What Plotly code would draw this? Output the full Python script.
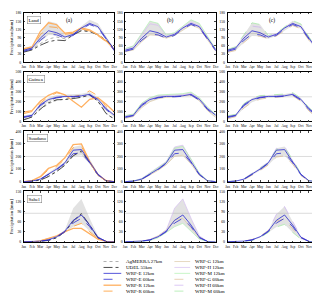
import numpy as np
import plotly.graph_objects as go

months = ["Jan", "Feb", "Mar", "Apr", "May", "Jun", "Jul", "Aug", "Sep", "Oct", "Nov", "Dec"]
regions = ["Land", "Guinea", "Soudano", "Sahel"]
panel_tags = ["(a)", "(b)", "(c)"]
y_max = [180, 500, 400, 150]
y_dtick = [30, 100, 100, 30]
ref_levels = [105, 250, 200, 85]

land = {
    "AgMERRA 27km": [40, 48, 68, 85, 92, 86, 102, 118, 115, 102, 80, 52],
    "UDEL 55km": [37, 45, 62, 75, 81, 79, 100, 115, 112, 100, 81, 50],
    "WRF-E 12km": [44, 52, 88, 115, 108, 92, 102, 125, 142, 130, 88, 46],
    "WRF-E 60km": [40, 48, 80, 103, 100, 88, 98, 122, 138, 126, 84, 42],
    "WRF-R 12km": [50, 56, 112, 144, 137, 106, 110, 125, 118, 100, 78, 46],
    "WRF-R 60km": [47, 54, 100, 130, 127, 102, 106, 122, 114, 97, 75, 44],
    "WRF-G 12km": [38, 45, 75, 100, 98, 88, 98, 118, 136, 124, 82, 40],
    "WRF-H 12km": [48, 58, 100, 140, 135, 98, 105, 128, 146, 132, 90, 46],
    "WRF-M 12km": [50, 60, 105, 150, 142, 100, 108, 132, 155, 142, 95, 48],
    "WRF-G 60km": [36, 43, 72, 96, 95, 86, 96, 116, 134, 122, 80, 38],
    "WRF-H 60km": [45, 55, 95, 132, 128, 96, 103, 126, 144, 130, 88, 44],
    "WRF-M 60km": [47, 57, 100, 144, 138, 98, 106, 130, 152, 140, 92, 46],
}
guinea = {
    "AgMERRA 27km": [20, 50, 120, 180, 215, 225, 235, 250, 262, 210, 85, 25],
    "UDEL 55km": [16, 45, 125, 190, 220, 222, 232, 245, 270, 205, 80, 22],
    "WRF-E 12km": [48, 63, 170, 222, 245, 254, 254, 260, 275, 225, 130, 63],
    "WRF-E 60km": [40, 58, 160, 215, 240, 250, 250, 255, 268, 215, 120, 55],
    "WRF-R 12km": [95, 110, 205, 265, 300, 270, 205, 145, 225, 240, 175, 95],
    "WRF-R 60km": [80, 100, 185, 250, 290, 275, 250, 270, 310, 260, 150, 70],
    "WRF-G 12km": [30, 50, 140, 200, 230, 245, 250, 255, 265, 210, 110, 40],
    "WRF-H 12km": [55, 70, 180, 235, 260, 265, 265, 270, 285, 235, 140, 70],
    "WRF-M 12km": [60, 75, 185, 240, 268, 272, 272, 282, 298, 242, 145, 72],
    "WRF-G 60km": [28, 48, 135, 195, 225, 240, 245, 250, 260, 205, 105, 38],
    "WRF-H 60km": [52, 68, 175, 230, 255, 262, 262, 266, 280, 230, 135, 66],
    "WRF-M 60km": [58, 72, 180, 236, 262, 268, 268, 278, 292, 238, 140, 70],
}
soudano = {
    "AgMERRA 27km": [0, 3, 15, 45, 85, 135, 215, 235, 150, 50, 5, 0],
    "UDEL 55km": [0, 2, 12, 40, 80, 130, 205, 245, 155, 52, 5, 0],
    "WRF-E 12km": [0, 4, 20, 60, 100, 150, 250, 255, 160, 60, 6, 0],
    "WRF-E 60km": [0, 3, 18, 55, 95, 145, 222, 228, 150, 55, 5, 0],
    "WRF-R 12km": [0, 8, 40, 105, 130, 190, 295, 300, 160, 55, 8, 0],
    "WRF-R 60km": [0, 6, 35, 95, 120, 180, 270, 280, 155, 50, 6, 0],
    "WRF-G 12km": [0, 3, 15, 50, 90, 135, 200, 210, 140, 50, 5, 0],
    "WRF-H 12km": [0, 5, 25, 70, 110, 160, 275, 290, 175, 65, 8, 0],
    "WRF-M 12km": [0, 5, 22, 65, 105, 155, 265, 280, 180, 68, 8, 0],
    "WRF-G 60km": [0, 3, 14, 48, 88, 132, 195, 205, 138, 48, 5, 0],
    "WRF-H 60km": [0, 5, 23, 66, 106, 155, 265, 280, 170, 62, 7, 0],
    "WRF-M 60km": [0, 5, 20, 62, 102, 150, 255, 270, 175, 65, 7, 0],
}
sahel = {
    "AgMERRA 27km": [0, 0, 1, 5, 13, 30, 60, 80, 48, 12, 1, 0],
    "UDEL 55km": [0, 0, 1, 4, 12, 30, 62, 84, 50, 12, 1, 0],
    "WRF-E 12km": [0, 0, 2, 6, 15, 32, 64, 80, 50, 14, 1, 0],
    "WRF-E 60km": [0, 0, 2, 5, 14, 30, 56, 70, 45, 12, 1, 0],
    "WRF-R 12km": [0, 0, 3, 10, 18, 30, 40, 40, 25, 8, 1, 0],
    "WRF-R 60km": [0, 0, 3, 9, 16, 30, 46, 55, 30, 10, 1, 0],
    "WRF-G 12km": [0, 0, 2, 7, 18, 36, 65, 70, 40, 12, 1, 0],
    "WRF-H 12km": [0, 0, 2, 6, 16, 35, 100, 128, 70, 18, 1, 0],
    "WRF-M 12km": [0, 0, 1, 4, 12, 28, 45, 55, 30, 8, 1, 0],
    "WRF-G 60km": [0, 0, 2, 7, 17, 34, 62, 68, 38, 12, 1, 0],
    "WRF-H 60km": [0, 0, 2, 6, 15, 33, 82, 105, 60, 16, 1, 0],
    "WRF-M 60km": [0, 0, 1, 4, 12, 28, 44, 52, 28, 8, 1, 0],
}
region_data = [land, guinea, soudano, sahel]

styles = {
    "AgMERRA 27km": dict(color="#9a9a9a", dash="dot", width=0.8),
    "UDEL 55km": dict(color="#222222", dash="dashdot", width=0.8),
    "WRF-E 12km": dict(color="#2b2bd0", dash="solid", width=0.8),
    "WRF-E 60km": dict(color="#2b2bd0", dash="dash", width=0.8),
    "WRF-R 12km": dict(color="#ffb060", dash="solid", width=1.3),
    "WRF-R 60km": dict(color="#ff9a30", dash="dash", width=0.8),
    "WRF-G 12km": dict(color="#dccaa8", dash="solid", width=0.7),
    "WRF-H 12km": dict(color="#d6bef0", dash="solid", width=0.7),
    "WRF-M 12km": dict(color="#b0f0b0", dash="solid", width=0.7),
    "WRF-G 60km": dict(color="#dcbc94", dash="dash", width=0.7),
    "WRF-H 60km": dict(color="#ccb0f0", dash="dash", width=0.7),
    "WRF-M 60km": dict(color="#a0e8a0", dash="dash", width=0.7),
}
col_series = [
    ["AgMERRA 27km", "UDEL 55km", "WRF-R 60km", "WRF-R 12km", "WRF-E 60km", "WRF-E 12km"],
    ["WRF-G 12km", "WRF-H 12km", "WRF-M 12km", "WRF-E 60km", "WRF-E 12km"],
    ["WRF-G 60km", "WRF-H 60km", "WRF-M 60km", "WRF-E 60km", "WRF-E 12km"],
]
col_band = [
    ["WRF-G 12km", "WRF-H 12km", "WRF-M 12km"],
    ["WRF-G 12km", "WRF-H 12km", "WRF-M 12km"],
    ["WRF-G 60km", "WRF-H 60km", "WRF-M 60km"],
]
legend_left = ["AgMERRA 27km", "UDEL 55km", "WRF-E 12km", "WRF-E 60km", "WRF-R 12km", "WRF-R 60km"]
legend_right = ["WRF-G 12km", "WRF-H 12km", "WRF-M 12km", "WRF-G 60km", "WRF-H 60km", "WRF-M 60km"]

W, H = 320, 294
col_px = [(14, 106), (117, 209), (221, 312)]
row_px = [(3, 53), (63, 113), (123, 174), (184, 235)]
FONT = "Liberation Serif"

fig = go.Figure()
layout = dict(
    width=W, height=H, margin=dict(l=0, r=0, t=0, b=0),
    paper_bgcolor="white", plot_bgcolor="white", showlegend=False,
    font=dict(family=FONT, size=4, color="black"),
)
shapes = []
annotations = []
x = list(range(12))

for r, data in enumerate(region_data):
    for c in range(3):
        k = r * 3 + c + 1
        xa = "x" if k == 1 else f"x{k}"
        ya = "y" if k == 1 else f"y{k}"
        band = np.array([data[n] for n in col_band[c]], dtype=float)
        lo, hi = band.min(axis=0), band.max(axis=0)
        fig.add_trace(go.Scatter(x=x, y=lo, mode="lines", line=dict(width=0), xaxis=xa, yaxis=ya,
                                 hoverinfo="skip"))
        fig.add_trace(go.Scatter(x=x, y=hi, mode="lines", line=dict(width=0), fill="tonexty",
                                 fillcolor="rgba(160,160,160,0.3)", xaxis=xa, yaxis=ya, hoverinfo="skip"))
        for name in col_series[c]:
            fig.add_trace(go.Scatter(x=x, y=data[name], mode="lines", name=name,
                                     line=styles[name], xaxis=xa, yaxis=ya))
        xl, xr = col_px[c]
        yt, yb = row_px[r]
        axx = dict(domain=[xl / W, xr / W], anchor=ya, range=[0, 11], tickmode="array",
                   tickvals=x, ticktext=months, tickangle=0, showline=True, mirror="ticks",
                   linecolor="black", linewidth=0.6, ticks="inside", ticklen=1.5, tickwidth=0.5,
                   showgrid=False, zeroline=False, tickfont=dict(size=3.5, family=FONT),
                   ticklabelstandoff=1)
        axy = dict(domain=[1 - yb / H, 1 - yt / H], anchor=xa, range=[0, y_max[r]],
                   dtick=y_dtick[r], showline=True, mirror="ticks", linecolor="black",
                   linewidth=0.6, ticks="inside", ticklen=1.5, tickwidth=0.5, showgrid=False,
                   zeroline=False, tickfont=dict(size=3.8, family=FONT), ticklabelstandoff=1)
        if c == 0:
            axy["title"] = dict(text="Precipitation [mm]", font=dict(size=4.6, family=FONT), standoff=1)
        layout["xaxis" if k == 1 else f"xaxis{k}"] = axx
        layout["yaxis" if k == 1 else f"yaxis{k}"] = axy
        shapes.append(dict(type="line", xref=f"{xa} domain", yref=ya, x0=0, x1=1,
                           y0=ref_levels[r], y1=ref_levels[r], line=dict(color="#c4c4c4", width=0.6),
                           layer="below"))
        if c == 0:
            annotations.append(dict(text=regions[r], xref=f"{xa} domain", yref=f"{ya} domain",
                                    x=0.04, y=0.94, xanchor="left", yanchor="top", showarrow=False,
                                    font=dict(size=5, family=FONT), bgcolor="white",
                                    bordercolor="#777777", borderwidth=0.5, borderpad=1))
        if r == 0:
            annotations.append(dict(text=panel_tags[c], xref=f"{xa} domain", yref=f"{ya} domain",
                                    x=0.5, y=0.96, xanchor="center", yanchor="top", showarrow=False,
                                    font=dict(size=5.5, family=FONT)))

legend_rows_px = [255, 261, 267, 273, 279, 285]
for names, (lx0, lx1, tx) in [(legend_left, (95, 113, 116)), (legend_right, (167, 183, 186))]:
    for name, ypx in zip(names, legend_rows_px):
        st = styles[name]
        shapes.append(dict(type="line", xref="paper", yref="paper", x0=lx0 / W, x1=lx1 / W,
                           y0=1 - ypx / H, y1=1 - ypx / H,
                           line=dict(color=st["color"], dash=st["dash"], width=st["width"])))
        annotations.append(dict(text=name, xref="paper", yref="paper", x=tx / W, y=1 - ypx / H,
                                xanchor="left", yanchor="middle", showarrow=False,
                                font=dict(size=5, family=FONT)))

layout["shapes"] = shapes
layout["annotations"] = annotations
fig.update_layout(**layout)
fig.write_html("out.html")
